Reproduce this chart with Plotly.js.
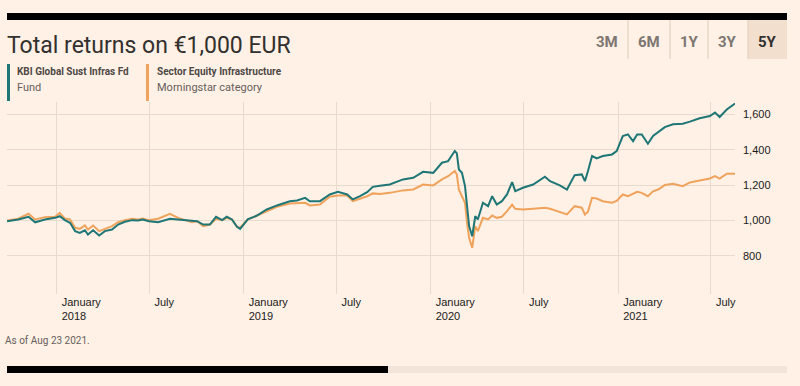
<!DOCTYPE html>
<html>
<head>
<meta charset="utf-8">
<script src="https://cdn.plot.ly/plotly-3.0.1.min.js"></script>
<style>
  html, body { margin: 0; padding: 0; background: #fff1e5; }
  #chart { width: 800px; height: 386px; }
</style>
</head>
<body>
<div id="chart"></div>
<script>
// ---------- DATA ----------
const dates = [
  '2017-09-26','2017-10-18','2017-11-07','2017-11-20','2017-12-09','2017-12-29',
  '2018-01-07','2018-01-17','2018-01-27','2018-02-06','2018-02-15','2018-02-25',
  '2018-03-03','2018-03-13','2018-03-25','2018-04-05','2018-04-19','2018-05-01',
  '2018-05-14','2018-05-28','2018-06-09','2018-06-18','2018-06-30','2018-07-18',
  '2018-08-10','2018-08-26','2018-09-22','2018-10-02','2018-10-14','2018-10-27',
  '2018-11-08','2018-11-20','2018-11-29','2018-12-09','2018-12-19','2018-12-25',
  '2019-01-09','2019-01-27','2019-02-15','2019-03-07','2019-04-01','2019-04-15',
  '2019-05-01','2019-05-10','2019-05-30','2019-06-18','2019-07-04','2019-07-22',
  '2019-08-02','2019-08-16','2019-08-30','2019-09-10','2019-09-24','2019-10-13',
  '2019-11-08','2019-11-28','2019-12-17','2020-01-06','2020-01-23','2020-02-04',
  '2020-02-17','2020-02-21','2020-02-25','2020-03-02','2020-03-08','2020-03-12',
  '2020-03-16','2020-03-22','2020-03-28','2020-04-02','2020-04-12','2020-04-22',
  '2020-04-30','2020-05-09','2020-05-19','2020-05-29','2020-06-08','2020-06-14',
  '2020-06-29','2020-07-19','2020-08-11','2020-08-21','2020-09-09','2020-09-23',
  '2020-10-08','2020-10-22','2020-10-28','2020-11-03','2020-11-11','2020-11-20',
  '2020-12-02','2020-12-20','2020-12-29','2021-01-10','2021-01-20','2021-01-30',
  '2021-02-07','2021-02-16','2021-02-28','2021-03-10','2021-03-20','2021-04-02',
  '2021-04-18','2021-05-07','2021-05-21','2021-06-09','2021-06-29','2021-07-09',
  '2021-07-18','2021-08-01','2021-08-17'
];

const fundValues = [
  996,1006,1021,990,1006,1015,
  1024,1002,987,940,930,945,
  921,945,915,940,949,977,
  993,1002,1000,1006,996,990,
  1010,1006,996,996,977,977,
  1021,1002,1021,1006,964,953,
  1006,1028,1062,1085,1109,1113,
  1128,1109,1109,1147,1162,1147,
  1119,1137,1160,1190,1196,1203,
  1232,1241,1275,1269,1326,1335,
  1392,1380,1288,1269,1194,1062,
  968,911,1024,1006,1100,1081,
  1137,1090,1109,1147,1217,1166,
  1185,1203,1247,1222,1198,1175,
  1256,1260,1222,1279,1364,1350,
  1364,1373,1392,1477,1486,1448,
  1486,1486,1433,1477,1501,1527,
  1543,1546,1558,1577,1590,1609,
  1584,1627,1660
];

const categoryValues = [
  1000,1010,1038,1006,1019,1021,
  1043,1011,1006,959,953,972,
  949,972,940,953,968,990,
  1002,1010,1006,1011,1002,1010,
  1038,1015,990,996,968,977,
  1010,1002,1015,1006,964,959,
  1006,1028,1053,1077,1096,1096,
  1100,1085,1090,1134,1141,1141,
  1109,1123,1137,1153,1150,1156,
  1170,1175,1203,1198,1232,1250,
  1279,1260,1175,1137,1100,987,
  902,846,968,940,1015,1006,
  1028,1015,1021,1053,1090,1066,
  1062,1066,1072,1066,1047,1034,
  1081,1072,1034,1050,1128,1124,
  1109,1100,1110,1147,1137,1150,
  1162,1156,1137,1165,1175,1200,
  1207,1194,1215,1226,1237,1250,
  1237,1264,1264
];

const fundName = 'KBI Global Sust Infras Fd';
const fundLabel = 'Fund';
const categoryName = 'Sector Equity Infrastructure';
const categoryLabel = 'Morningstar category';

const xTickVals = ['2018-01-01','2018-07-01','2019-01-01','2019-07-01','2020-01-01','2020-07-01','2021-01-01','2021-07-01'];
const xTickText = ['January<br>2018','July','January<br>2019','July','January<br>2020','July','January<br>2021','July'];
const yTickVals = [800, 1000, 1200, 1400, 1600];

const rangeButtons = ['3M','6M','1Y','3Y','5Y'];
const titleText = 'Total returns on €1,000 EUR';
const footnote = 'As of Aug 23 2021.';

// ---------- LAYOUT HELPERS ----------
const W = 800, H = 386;
const M = {l: 7, r: 65, t: 102, b: 92};
const PW = W - M.l - M.r, PH = H - M.t - M.b;
const px = x => (x - M.l) / PW;
const py = y => (H - M.b - y) / PH;

const TEAL = '#1f7677';
const ORANGE = '#f0a35c';
const GRID = '#e8dacd';
const FONT = 'Roboto, "Liberation Sans", sans-serif';
const TICKFONT = '"Liberation Sans", Arial, sans-serif';

const traces = [
  {x: dates, y: categoryValues, type: 'scatter', mode: 'lines', name: categoryName,
   line: {color: ORANGE, width: 2}, hoverinfo: 'skip'},
  {x: dates, y: fundValues, type: 'scatter', mode: 'lines', name: fundName,
   line: {color: TEAL, width: 2}, hoverinfo: 'skip'}
];

const shapes = [];
const annotations = [];
function rect(x0, y0, x1, y1, color) {
  shapes.push({type: 'rect', xref: 'paper', yref: 'paper', x0: px(x0), x1: px(x1), y0: py(y0), y1: py(y1),
    fillcolor: color, line: {width: 0}, layer: 'below'});
}
function vline(x, y0, y1, color) {
  shapes.push({type: 'line', xref: 'paper', yref: 'paper', x0: px(x), x1: px(x), y0: py(y0), y1: py(y1),
    line: {color: color, width: 1}});
}
function text(t, x, y, opts) {
  annotations.push(Object.assign({text: t, xref: 'paper', yref: 'paper', x: px(x), y: py(y),
    xanchor: 'left', yanchor: 'middle', showarrow: false, font: {family: FONT, size: 12, color: '#33302e'}}, opts || {}));
}

// top black bar
rect(7, 13, 787, 20, '#000000');
// title
text(titleText, 5, 46, {font: {family: FONT, size: 23, color: '#33302e'}});
// range buttons
rect(748, 20, 787, 59, '#f2dfce');
[628, 670, 708, 748].forEach(x => vline(x, 20, 59, '#dccbbb'));
const btnCenters = [607, 649, 689, 727, 767];
rangeButtons.forEach((b, i) => {
  text('<b>' + b + '</b>', btnCenters[i], 42, {xanchor: 'center',
    font: {family: FONT, size: 15, color: i === 4 ? '#33302e' : '#7d7671'}});
});
// legend
rect(7, 64, 10, 101, TEAL);
rect(146, 64, 149, 101, ORANGE);
text('<b>' + fundName + '</b>', 15, 71, {font: {family: FONT, size: 10, color: '#4d4845'}});
text(fundLabel, 15, 88, {font: {family: FONT, size: 11, color: '#66605c'}});
text('<b>' + categoryName + '</b>', 155, 71, {font: {family: FONT, size: 10, color: '#4d4845'}});
text(categoryLabel, 155, 88, {font: {family: FONT, size: 11, color: '#66605c'}});
// footnote
text(footnote, 3, 340, {font: {family: FONT, size: 10, color: '#66605c'}});
// bottom bars
rect(7, 366, 388, 373, '#000000');
rect(388, 366, 787, 373, '#f2e4d8');

const layout = {
  width: W, height: H,
  margin: M,
  paper_bgcolor: '#fff1e5',
  plot_bgcolor: '#fff1e5',
  showlegend: false,
  hovermode: false,
  font: {family: FONT, color: '#1a1a1a'},
  xaxis: {
    type: 'date',
    range: ['2017-09-26', '2021-08-17'],
    tickmode: 'array', tickvals: xTickVals, ticktext: xTickText,
    ticklabelposition: 'outside right',
    ticklabelshift: 5,
    showgrid: true, gridcolor: GRID, gridwidth: 1,
    zeroline: false, showline: false, ticks: '',
    tickfont: {family: TICKFONT, size: 11, color: '#1a1a1a'},
    fixedrange: true
  },
  yaxis: {
    side: 'right',
    range: [585, 1669],
    tickmode: 'array', tickvals: yTickVals,
    tickformat: ',',
    showgrid: true, gridcolor: GRID, gridwidth: 1,
    zeroline: false, showline: false, ticks: '',
    ticklabelstandoff: 7,
    tickfont: {family: TICKFONT, size: 11, color: '#1a1a1a'},
    fixedrange: true
  },
  shapes: shapes,
  annotations: annotations
};

Plotly.newPlot('chart', traces, layout, {displayModeBar: false, staticPlot: true});
</script>
</body>
</html>
